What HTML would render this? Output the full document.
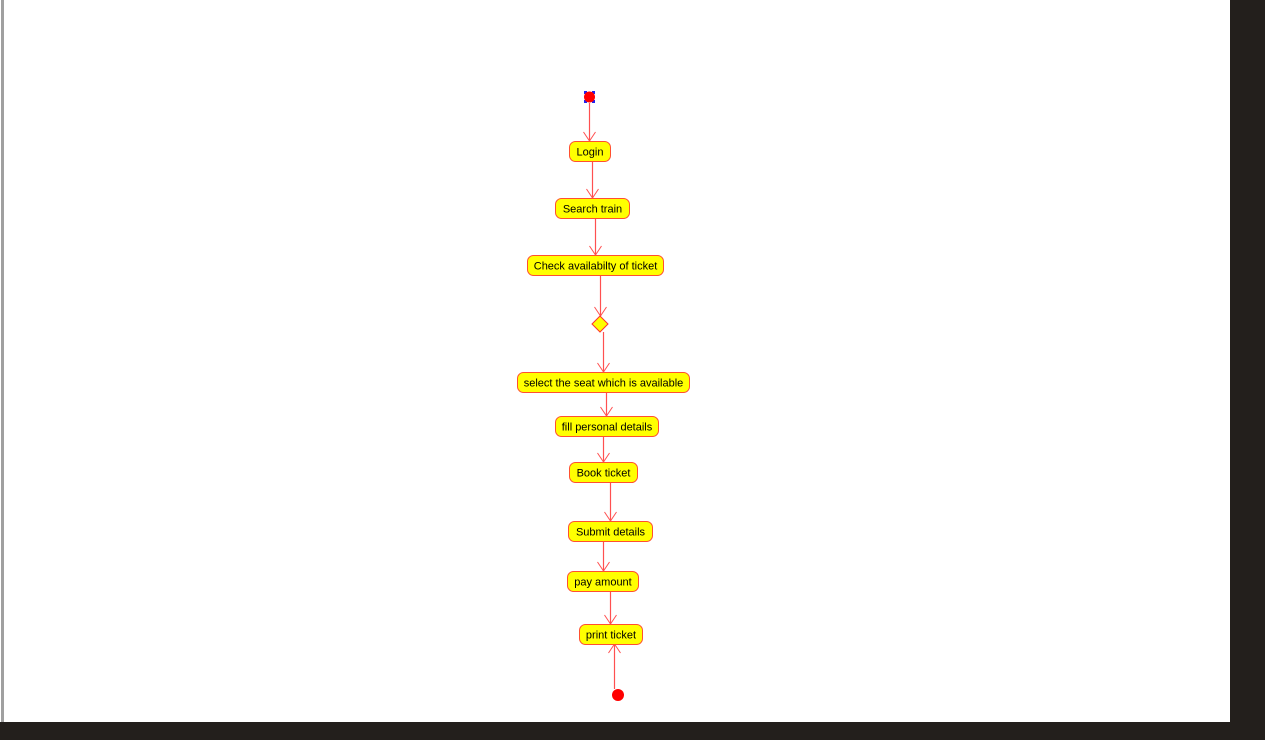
<!DOCTYPE html>
<html><head><meta charset="utf-8"><style>
html,body{margin:0;padding:0;width:1265px;height:740px;overflow:hidden;background:#231f1c;}
svg{display:block}
text{font-family:"Liberation Sans",Arial,sans-serif;font-size:11px;fill:#000;}
</style></head><body>
<svg width="1265" height="740">
<rect x="0" y="0" width="1230" height="722" fill="#ffffff"/>
<rect x="1" y="0" width="3" height="722" fill="#a0a0a0"/>
<defs><marker id="ah" markerWidth="14" markerHeight="14" refX="11" refY="7" orient="auto" markerUnits="userSpaceOnUse" viewBox="0 0 14 14"><path d="M2,1 L11,7 L2,13" fill="none" stroke="#ff5050" stroke-width="1"/></marker></defs>
<g stroke="#ff5050" stroke-width="1.2" fill="none">
<line x1="589.5" y1="103" x2="589.5" y2="141" marker-end="url(#ah)"/>
<line x1="592.5" y1="161" x2="592.5" y2="198" marker-end="url(#ah)"/>
<line x1="595.5" y1="218" x2="595.5" y2="255" marker-end="url(#ah)"/>
<line x1="600.5" y1="275" x2="600.5" y2="316" marker-end="url(#ah)"/>
<line x1="603.5" y1="332" x2="603.5" y2="372" marker-end="url(#ah)"/>
<line x1="606.5" y1="392" x2="606.5" y2="416" marker-end="url(#ah)"/>
<line x1="603.5" y1="436" x2="603.5" y2="462" marker-end="url(#ah)"/>
<line x1="610.5" y1="482" x2="610.5" y2="521" marker-end="url(#ah)"/>
<line x1="603.5" y1="541" x2="603.5" y2="571" marker-end="url(#ah)"/>
<line x1="610.5" y1="591" x2="610.5" y2="624" marker-end="url(#ah)"/>
<line x1="614.5" y1="689" x2="614.5" y2="644" marker-end="url(#ah)"/>
</g>
<g>
<rect x="584" y="91" width="3" height="3" fill="#2222ee"/><rect x="592" y="91" width="3" height="3" fill="#2222ee"/>
<rect x="584" y="100" width="3" height="3" fill="#2222ee"/><rect x="592" y="100" width="3" height="3" fill="#2222ee"/>
<circle cx="589.5" cy="97" r="5.5" fill="#ff0000"/>
</g>
<circle cx="618" cy="695" r="6" fill="#ff0000"/>
<polygon points="600,316 608,324 600,332 592,324" fill="#ffff00" stroke="#ff3030" stroke-width="1"/>
<g stroke="#ff5030" stroke-width="1" fill="#ffff00">
<rect x="569.5" y="141.5" width="41" height="20" rx="6"/>
<rect x="555.5" y="198.5" width="74" height="20" rx="6"/>
<rect x="527.5" y="255.5" width="136" height="20" rx="6"/>
<rect x="517.5" y="372.5" width="172" height="20" rx="6"/>
<rect x="555.5" y="416.5" width="103" height="20" rx="6"/>
<rect x="569.5" y="462.5" width="68" height="20" rx="6"/>
<rect x="568.5" y="521.5" width="84" height="20" rx="6"/>
<rect x="567.5" y="571.5" width="71" height="20" rx="6"/>
<rect x="579.5" y="624.5" width="63" height="20" rx="6"/>
</g>
<g text-anchor="middle">
<text x="590" y="155.5">Login</text>
<text x="592.5" y="212.5">Search train</text>
<text x="595.5" y="269.5">Check availabilty of ticket</text>
<text x="603.5" y="386.5">select the seat which is available</text>
<text x="607" y="430.5">fill personal details</text>
<text x="603.5" y="476.5">Book ticket</text>
<text x="610.5" y="535.5">Submit details</text>
<text x="603" y="585.5">pay amount</text>
<text x="611" y="638.5">print ticket</text>
</g>
</svg>
</body></html>
